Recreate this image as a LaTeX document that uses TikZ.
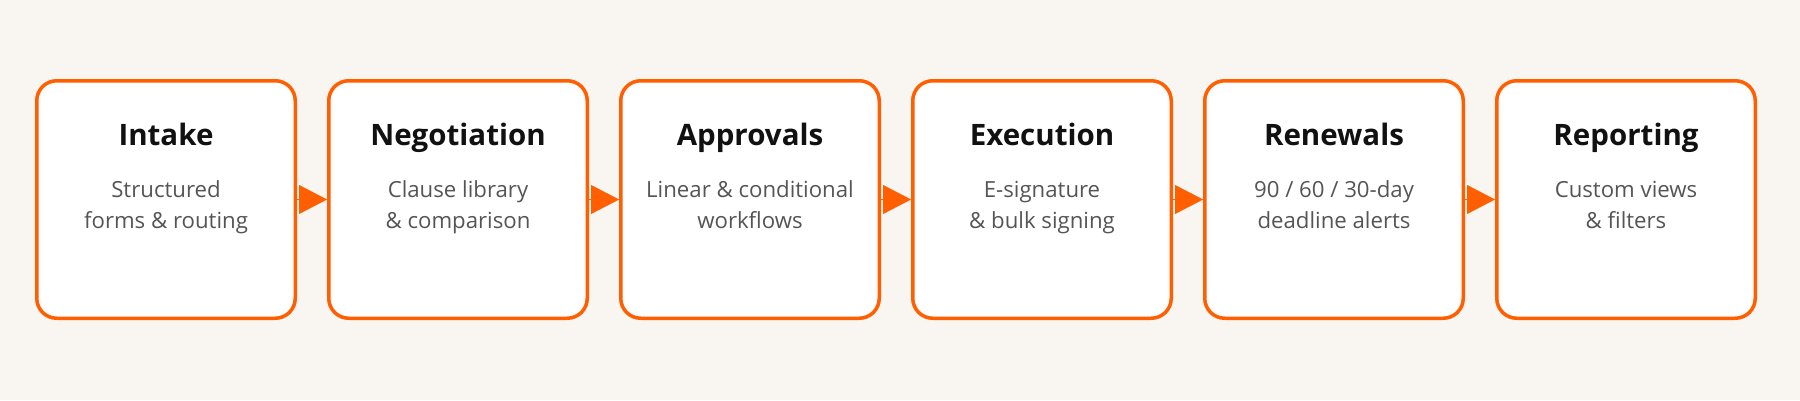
\documentclass[tikz,border=0pt]{standalone}
\usepackage{fontspec}
\setmainfont{Open Sans}
\usetikzlibrary{positioning,arrows.meta}
\definecolor{flame}{HTML}{FF5F00}
\definecolor{paper}{HTML}{F9F6F1}
\definecolor{ink}{HTML}{111111}
\definecolor{slate}{HTML}{555555}
\tikzset{%
	stage/.style   = {draw=flame, fill=white, line width=3.5pt, rounded corners=20pt, minimum width=258.5pt, minimum height=237.5pt},
	heading/.style = {font=\bfseries\fontsize{29.5}{36}\selectfont, text=ink, anchor=base, inner sep=0pt},
	blurb/.style   = {font=\fontsize{22.2}{31.5}\selectfont, text=slate, align=center, anchor=base, inner sep=0pt},
	flow/.style    = {draw=flame, fill=flame, line width=0.1pt, -{Triangle[length=28pt,width=29pt]}},
}
\begin{document}
\begin{tikzpicture}[x=1pt,y=1pt]
	\fill[paper] (0,0) rectangle (1800,400);
	\useasboundingbox (0,0) rectangle (1800,400);
	\foreach \head/\desc [count=\i] in {Intake/{Structured\\forms \& routing},
		Negotiation/{Clause library\\\& comparison},
		Approvals/{Linear \& conditional\\workflows},
		Execution/{E-signature\\\& bulk signing},
		Renewals/{90 / 60 / 30-day\\deadline alerts},
		Reporting/{Custom views\\\& filters}}{
		\node[stage] (s\i) at ({166+292*(\i-1)},200.5) {};
		\node[heading] (t\i) at ([yshift=54.5pt]s\i.center) {\head};
		\node[blurb] (d\i) at ([yshift=-29pt]s\i.center) {\desc};
	}
	% arrows between the stages
	\foreach \i [count=\k from 2] in {1,...,5}
		\draw[flow] (s\i) -- (s\k);
\end{tikzpicture}
\end{document}
